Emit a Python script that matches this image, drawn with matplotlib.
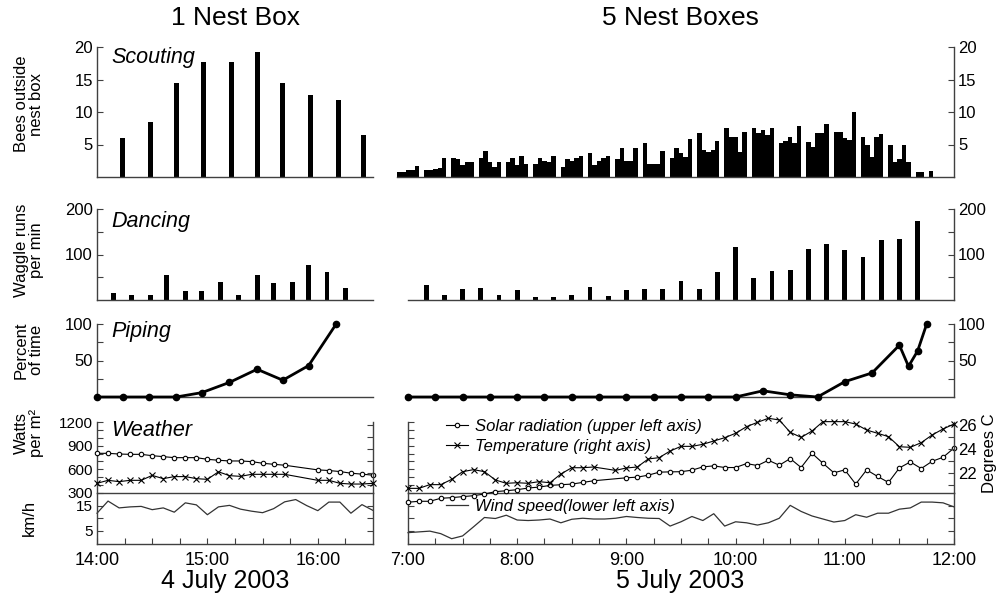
import numpy as np
import matplotlib
matplotlib.use('Agg')
import matplotlib.pyplot as plt
from matplotlib.ticker import FixedLocator, NullFormatter, NullLocator
from matplotlib.lines import Line2D

plt.rcParams['font.family'] = ['Liberation Sans', 'DejaVu Sans']

W, H = 997, 594

def hrs(t):
    h, m = t.split(':')
    return int(h) + int(m) / 60

#
# 4 July 2003 - 1 nest box
#
scout1_t = ['14:14', '14:29', '14:43', '14:58', '15:13', '15:27', '15:41', '15:56', '16:11', '16:25']
scout1_n = [6.0, 8.4, 14.4, 17.7, 17.7, 19.2, 14.4, 12.6, 11.9, 6.4]

dance1_t = ['14:09', '14:19', '14:29', '14:38', '14:48', '14:57', '15:07', '15:17',
            '15:27', '15:36', '15:46', '15:55', '16:05', '16:15']
dance1_n = [15, 12, 12, 56, 20, 20, 40, 12, 54, 38, 40, 77, 61, 26]

pipe1_t = ['14:00', '14:14', '14:28', '14:43', '14:57', '15:12', '15:27', '15:41', '15:55', '16:10']
pipe1_p = [0, 0, 0, 0, 6, 20, 38, 23, 43, 100]

solar1_t = ['14:00', '14:06', '14:12', '14:18', '14:24', '14:30', '14:36', '14:42', '14:48',
            '14:54', '15:00', '15:06', '15:12', '15:18', '15:24', '15:30', '15:36', '15:42',
            '16:00', '16:06', '16:12', '16:18', '16:24', '16:30']
solar1_w = [803, 803, 794, 790, 790, 773, 761, 748, 748, 748, 727, 715, 706, 706, 698, 677,
            664, 652, 593, 585, 572, 551, 539, 526]
temp1_c = [21.14, 21.39, 21.28, 21.39, 21.39, 21.8, 21.53, 21.7, 21.7, 21.53, 21.47, 22.1,
           21.78, 21.72, 21.89, 21.89, 21.89, 21.89, 21.39, 21.39, 21.14, 21.08, 21.08, 21.14]

wind1_t = ['14:00', '14:06', '14:12', '14:18', '14:24', '14:30', '14:36', '14:42', '14:48',
           '14:54', '15:00', '15:06', '15:12', '15:18', '15:24', '15:30', '15:36', '15:42',
           '15:48', '15:54', '16:00', '16:06', '16:12', '16:18', '16:24', '16:30']
wind1_k = [12.0, 16.8, 14.1, 14.5, 14.7, 13.4, 14.1, 12.4, 16.1, 15.3, 11.4, 14.5, 15.1,
           13.6, 12.8, 12.2, 13.8, 16.5, 17.4, 15.0, 13.0, 16.4, 16.4, 12.0, 15.4, 13.1]

#
# 5 July 2003 - 5 nest boxes (one bar per box in each group)
#
scout5_t = ['7:00', '7:15', '7:30', '7:45', '8:00', '8:15', '8:30', '8:45', '9:00', '9:15',
            '9:30', '9:45', '10:00', '10:15', '10:30', '10:45', '11:00', '11:15', '11:30', '11:45']
scout5_n = [[0.7, 0.7, 1.1, 1.1, 1.7],
            [1.1, 1.1, 1.3, 1.4, 3.0],
            [3.0, 2.8, 1.8, 2.3, 2.3],
            [3.0, 4.0, 2.3, 1.5, 2.3],
            [2.3, 3.0, 1.8, 3.3, 2.0],
            [2.0, 3.0, 2.5, 2.3, 3.3],
            [1.5, 2.8, 2.5, 3.0, 3.3],
            [3.7, 1.9, 2.5, 3.0, 3.3],
            [2.7, 4.5, 2.5, 2.5, 4.5],
            [5.3, 2.0, 2.0, 2.0, 4.0],
            [3.0, 4.5, 3.7, 3.1, 5.8],
            [6.7, 4.2, 3.9, 4.1, 5.5],
            [7.6, 6.2, 6.2, 3.8, 7.0],
            [7.6, 6.7, 7.3, 6.5, 7.6],
            [5.3, 5.5, 6.2, 5.3, 7.8],
            [5.4, 4.6, 6.7, 6.7, 8.2],
            [7.0, 7.0, 6.0, 5.7, 10.0],
            [6.2, 4.9, 3.1, 6.2, 6.6],
            [4.9, 2.3, 2.7, 4.9, 2.3],
            [0.7, 0.7, 0.0, 1.0, 0.0]]

dance5_t = ['7:10', '7:20', '7:30', '7:40', '7:50', '8:00', '8:10', '8:20', '8:30', '8:40',
            '8:50', '9:00', '9:10', '9:20', '9:30', '9:40', '9:50', '10:00', '10:10', '10:20',
            '10:30', '10:40', '10:50', '11:00', '11:10', '11:20', '11:30', '11:40']
dance5_n = [34, 11, 24, 26, 11, 22, 6, 7, 11, 28, 9, 22, 24, 24, 42, 24,
            61, 116, 48, 64, 67, 112, 123, 110, 94, 132, 135, 174]

pipe5_t = ['7:00', '7:15', '7:30', '7:45', '8:00', '8:15', '8:30', '8:45', '9:00', '9:15',
           '9:30', '9:45', '10:00', '10:15', '10:30', '10:45', '11:00', '11:15', '11:30',
           '11:35', '11:40', '11:45']
pipe5_p = [0, 0, 0, 0, 0, 0, 0, 0, 0, 0, 0, 0, 0, 8.5, 3, 0, 21, 33, 71, 42, 63, 100]

solar5_t = ['7:00', '7:06', '7:12', '7:18', '7:24', '7:30', '7:36', '7:42', '7:48', '7:54',
            '8:00', '8:06', '8:12', '8:18', '8:24', '8:30', '8:36', '8:42',
            '9:00', '9:06', '9:12', '9:18', '9:24', '9:30', '9:36', '9:42', '9:48', '9:54',
            '10:00', '10:06', '10:12', '10:18', '10:24', '10:30', '10:36', '10:42', '10:48',
            '10:54', '11:00', '11:06', '11:12', '11:18', '11:24', '11:30', '11:36', '11:42',
            '11:48', '11:54', '12:00']
solar5_w = [183, 195, 195, 233, 241, 254, 266, 287, 317, 329, 342, 363, 375, 396, 405, 413,
            434, 455, 493, 501, 526, 564, 568, 570, 589, 631, 644, 623, 623, 673, 648, 715,
            652, 736, 623, 803, 677, 556, 593, 413, 593, 510, 434, 618, 694, 610, 702, 753, 870]

temp5_t = ['7:00', '7:06', '7:12', '7:18', '7:24', '7:30', '7:36', '7:42', '7:48', '7:54',
           '8:00', '8:06', '8:12', '8:18', '8:24', '8:30', '8:36', '8:42', '8:54',
           '9:00', '9:06', '9:12', '9:18', '9:24', '9:30', '9:36', '9:42', '9:48', '9:54',
           '10:00', '10:06', '10:12', '10:18', '10:24', '10:30', '10:36', '10:42', '10:48',
           '10:54', '11:00', '11:06', '11:12', '11:18', '11:24', '11:30', '11:36', '11:42',
           '11:48', '11:54', '12:00']
temp5_c = [20.72, 20.72, 21.03, 21.03, 21.47, 22.11, 22.28, 22.11, 21.42, 21.14, 21.19,
           21.14, 21.28, 21.19, 21.92, 22.44, 22.44, 22.5, 22.22, 22.42, 22.5, 23.17, 23.28,
           23.83, 24.22, 24.22, 24.39, 24.67, 24.94, 25.31, 25.86, 26.22, 26.56, 26.42, 25.39,
           24.97, 25.5, 26.28, 26.28, 26.28, 26.08, 25.58, 25.31, 25.03, 24.19, 24.14, 24.53,
           25.17, 25.67, 26.08]

wind5_t = ['7:00', '7:06', '7:12', '7:18', '7:24', '7:30', '7:36', '7:42', '7:48', '7:54',
           '8:00', '8:06', '8:12', '8:18', '8:24', '8:30', '8:36', '8:42', '8:48', '8:54',
           '9:00', '9:06', '9:12', '9:18', '9:24', '9:30', '9:36', '9:42', '9:48', '9:54',
           '10:00', '10:06', '10:12', '10:18', '10:24', '10:30', '10:36', '10:42', '10:48',
           '10:54', '11:00', '11:06', '11:12', '11:18', '11:24', '11:30', '11:36', '11:42',
           '11:48', '11:54', '12:00']
wind5_k = [4.3, 4.6, 4.9, 3.9, 1.9, 3.0, 6.6, 10.3, 9.9, 11.2, 9.3, 9.1, 9.3, 9.7, 8.2, 9.6,
           10.0, 9.7, 9.7, 10.0, 10.7, 10.3, 10.0, 9.9, 6.9, 8.6, 10.7, 9.1, 11.8, 6.9, 8.6,
           8.2, 7.3, 8.2, 10.0, 15.1, 12.7, 10.9, 9.7, 8.5, 9.1, 11.4, 10.4, 12.0, 12.0, 13.6,
           14.1, 16.4, 16.4, 16.1, 14.5]

#
# layout (pixel boxes -> figure fractions)
#
def box(x0, y0, x1, y1):
    return [x0 / W, 1 - y1 / H, (x1 - x0) / W, (y1 - y0) / H]

fig = plt.figure(figsize=(W / 100, H / 100), dpi=100)

L0, L1 = 97, 373      # left column 14:00 - 16:30
R0, R1 = 408, 954     # right column 7:00 - 12:00
AX_C = '0.25'
FS = 12

sc1 = fig.add_axes(box(L0, 47, L1, 177))
sc2 = fig.add_axes(box(397, 47, R1, 177))
dn1 = fig.add_axes(box(L0, 209, L1, 300))
dn2 = fig.add_axes(box(R0, 209, R1, 300))
pp1 = fig.add_axes(box(L0, 324, L1, 397))
pp2 = fig.add_axes(box(R0, 324, R1, 397))
wl1 = fig.add_axes(box(L0, 493, L1, 543.5))
wl2 = fig.add_axes(box(R0, 493, R1, 543.5))
wu1 = fig.add_axes(box(L0, 422, L1, 493))
wu2 = fig.add_axes(box(R0, 422, R1, 493))

for ax in [sc1, dn1, pp1, wu1, wl1]:
    ax.set_xlim(14, 16.5)
for ax in [dn2, pp2, wu2, wl2]:
    ax.set_xlim(7, 12)
sc2.set_xlim(7 - 11 / 109.2, 12)

def style(ax, side):
    for s in ax.spines.values():
        s.set_color(AX_C)
        s.set_linewidth(1.0)
    ax.spines['top'].set_visible(False)
    if side == 'left':
        ax.spines['right'].set_visible(False)
    else:
        ax.spines['left'].set_visible(False)
        ax.yaxis.tick_right()
    ax.tick_params(axis='both', which='both', direction='in', color=AX_C, width=0.8,
                   labelsize=FS, pad=3)
    ax.tick_params(which='major', length=4)
    ax.tick_params(which='minor', length=4)
    ax.xaxis.set_major_locator(NullLocator())
    ax.xaxis.set_minor_locator(NullLocator())

# ---- Scouting
w1 = 5 / 110.4
sc1.bar([hrs(t) for t in scout1_t], scout1_n, width=w1, color='black', linewidth=0)
bw = 2.46 / 60
for k, t in enumerate(scout5_t):
    xs = [hrs(t) + (i - 2) * bw for i in range(5)]
    sc2.bar(xs, scout5_n[k], width=bw, color='black', linewidth=0)
for ax, side in [(sc1, 'left'), (sc2, 'right')]:
    style(ax, side)
    ax.set_ylim(0, 20)
    ax.yaxis.set_major_locator(FixedLocator([5, 10, 15, 20]))

# ---- Dancing
dn1.bar([hrs(t) for t in dance1_t], dance1_n, width=w1, color='black', linewidth=0)
dn2.bar([hrs(t) for t in dance5_t], dance5_n, width=w1, color='black', linewidth=0)
for ax, side in [(dn1, 'left'), (dn2, 'right')]:
    style(ax, side)
    ax.set_ylim(0, 200)
    ax.yaxis.set_major_locator(FixedLocator([100, 200]))
    ax.yaxis.set_minor_locator(FixedLocator([50, 150]))

# ---- Piping
pp1.plot([hrs(t) for t in pipe1_t], pipe1_p, color='black', lw=2, marker='o', ms=4.5,
         clip_on=False, zorder=3)
pp2.plot([hrs(t) for t in pipe5_t], pipe5_p, color='black', lw=2, marker='o', ms=4.5,
         clip_on=False, zorder=3)
for ax, side in [(pp1, 'left'), (pp2, 'right')]:
    style(ax, side)
    ax.set_ylim(0, 100)
    ax.yaxis.set_major_locator(FixedLocator([50, 100]))
    ax.yaxis.set_minor_locator(FixedLocator([25, 75]))

# ---- Weather: solar (upper axes) + temperature (twin) + wind (lower axes)
T_LIM = (22 - 20 / 12, 26 + 3 / 12)
sol_kw = dict(color='black', lw=0.8, marker='o', ms=3.2, mfc='white', mec='black', mew=0.8,
              clip_on=False, zorder=3)
tmp_kw = dict(color='black', lw=0.8, marker='x', ms=4, mew=0.8, clip_on=False, zorder=3)
wnd_kw = dict(color='0.2', lw=0.9, clip_on=False)

twins = []
for wu, wl, sol_t, sol_w, tmp_t, tmp_c, wnd_t, wnd_k in [
        (wu1, wl1, solar1_t, solar1_w, solar1_t, temp1_c, wind1_t, wind1_k),
        (wu2, wl2, solar5_t, solar5_w, temp5_t, temp5_c, wind5_t, wind5_k)]:
    wu.plot([hrs(t) for t in sol_t], sol_w, **sol_kw)
    tw = wu.twinx()
    tw.plot([hrs(t) for t in tmp_t], tmp_c, **tmp_kw)
    wl.plot([hrs(t) for t in wnd_t], wnd_k, **wnd_kw)
    wu.patch.set_visible(False)
    wl.patch.set_visible(False)

    for ax in [wu, wl, tw]:
        for s in ax.spines.values():
            s.set_color(AX_C)
            s.set_linewidth(1.0)
        ax.spines['top'].set_visible(False)
        ax.tick_params(axis='both', which='both', direction='in', color=AX_C, width=0.8,
                       length=4, labelsize=11, pad=3)
    tw.spines['left'].set_visible(False)
    tw.spines['bottom'].set_visible(False)
    wu.spines['right'].set_visible(False)
    wu.set_ylim(300, 1200)
    wu.yaxis.set_major_locator(FixedLocator([300, 600, 900, 1200]))
    wu.yaxis.set_minor_locator(FixedLocator([400, 500, 700, 800, 1000, 1100]))
    wu.xaxis.set_major_locator(NullLocator())
    tw.set_ylim(*T_LIM)
    tw.yaxis.set_major_locator(FixedLocator([22, 24, 26]))
    tw.yaxis.set_minor_locator(FixedLocator([21, 23, 25]))
    tw.tick_params(labelsize=12)
    wl.set_ylim(0, 20)
    wl.yaxis.set_major_locator(FixedLocator([5, 15]))
    wl.yaxis.set_minor_locator(FixedLocator([10]))
    wl.tick_params(axis='y', which='both', right=True)
    twins.append(tw)

wl1.xaxis.set_major_locator(FixedLocator([14, 15, 16]))
wl1.set_xticklabels(['14:00', '15:00', '16:00'])
wl1.xaxis.set_minor_locator(FixedLocator([14.25, 14.5, 14.75, 15.25, 15.5, 15.75, 16.25]))
hour5 = [7, 8, 9, 10, 11, 12]
wl2.xaxis.set_major_locator(FixedLocator(hour5))
wl2.set_xticklabels([f'{h}:00' for h in hour5])
wl2.xaxis.set_minor_locator(FixedLocator([h + q for h in range(7, 12) for q in (0.25, 0.5, 0.75)]))
for ax in [wl1, wl2]:
    ax.tick_params(axis='x', labelsize=13, pad=6)

twins[0].yaxis.set_major_formatter(NullFormatter())
wu2.yaxis.set_major_formatter(NullFormatter())
wl2.yaxis.set_major_formatter(NullFormatter())
wl2.yaxis.set_minor_formatter(NullFormatter())

# legend on the right weather panel
h_sol = Line2D([], [], **{k: v for k, v in sol_kw.items() if k not in ('clip_on', 'zorder')})
h_tmp = Line2D([], [], **{k: v for k, v in tmp_kw.items() if k not in ('clip_on', 'zorder')})
h_wnd = Line2D([], [], color='0.2', lw=0.9)
leg_kw = dict(frameon=False, handlelength=1.3, handletextpad=0.45,
              borderpad=0, borderaxespad=0, prop={'style': 'italic', 'size': 12},
              bbox_transform=fig.transFigure, loc='upper left')
twins[1].legend([h_sol, h_tmp], ['Solar radiation (upper left axis)', 'Temperature (right axis)'],
                bbox_to_anchor=(446 / W, 1 - 419 / H), labelspacing=0.3, **leg_kw)
wl2.legend([h_wnd], ['Wind speed(lower left axis)'],
           bbox_to_anchor=(446 / W, 1 - 499 / H), **leg_kw)

# ---- texts
lab_kw = dict(rotation=90, ha='center', va='center', fontsize=12, linespacing=1.0,
              multialignment='center')
fig.text(29 / W, 1 - 104 / H, 'Bees outside\nnest box', **lab_kw)
fig.text(29 / W, 1 - 250 / H, 'Waggle runs\nper min', **lab_kw)
fig.text(29 / W, 1 - 350 / H, 'Percent\nof time', **lab_kw)
fig.text(29 / W, 1 - 433 / H, 'Watts\nper m²', **lab_kw)
fig.text(29 / W, 1 - 518 / H, 'km/h', **lab_kw)
fig.text(989 / W, 1 - 453 / H, 'Degrees C', **lab_kw)

it_kw = dict(fontsize=15.5, style='italic', ha='left', va='center')
for name, yc in [('Scouting', 58), ('Dancing', 221), ('Piping', 332), ('Weather', 430)]:
    fig.text(111 / W, 1 - yc / H, name, **it_kw)

fig.text(235 / W, 1 - 18 / H, '1 Nest Box', fontsize=19, ha='center', va='center')
fig.text(680 / W, 1 - 18 / H, '5 Nest Boxes', fontsize=19, ha='center', va='center')
fig.text(225 / W, 1 - 581 / H, '4 July 2003', fontsize=18, ha='center', va='center')
fig.text(680 / W, 1 - 581 / H, '5 July 2003', fontsize=18, ha='center', va='center')

fig.savefig('out.png', dpi=100)
